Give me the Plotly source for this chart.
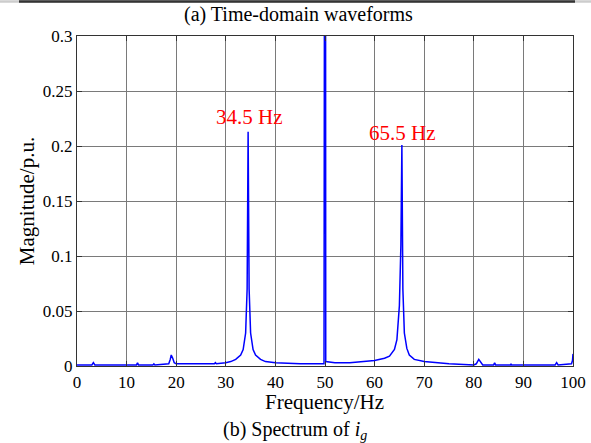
import plotly.graph_objects as go

freq = [0, 3.0, 3.3, 3.6, 10, 12.0, 12.2, 12.4, 15.3, 15.5, 15.7, 18.5, 18.8, 19.0, 19.3, 19.6, 20.0,
        25, 27.7, 27.9, 28.1, 30, 31, 32, 33, 33.5, 34.0, 34.3, 34.5, 34.7, 35.0, 35.5, 36, 37, 38, 40,
        45, 49.8, 49.9, 50.05, 50.15, 52, 55, 60, 62, 63, 64, 64.5, 65.0, 65.3, 65.5, 65.7, 66.0, 66.5,
        67, 68, 70, 75, 80, 80.5, 81.0, 81.4, 81.8, 84.0, 84.2, 84.4, 87.4, 87.5, 87.6, 96.4, 96.7, 97.0,
        99.7, 99.9, 100]
mag = [0.001, 0.001, 0.003, 0.001, 0.001, 0.001, 0.003, 0.001, 0.001, 0.002, 0.001, 0.002, 0.006, 0.010, 0.007, 0.003, 0.002,
       0.002, 0.002, 0.003, 0.002, 0.003, 0.004, 0.006, 0.010, 0.015, 0.030, 0.07, 0.213, 0.07, 0.030, 0.015, 0.010, 0.006, 0.004, 0.003,
       0.002, 0.002, 1.0, 1.0, 0.004, 0.003, 0.003, 0.005, 0.007, 0.009, 0.015, 0.024, 0.055, 0.11, 0.201, 0.07, 0.030, 0.016,
       0.010, 0.006, 0.004, 0.002, 0.001, 0.002, 0.006, 0.003, 0.001, 0.001, 0.003, 0.001, 0.001, 0.002, 0.001, 0.001, 0.003, 0.001,
       0.002, 0.005, 0.011]

x_ticks = [0, 10, 20, 30, 40, 50, 60, 70, 80, 90, 100]
y_ticks = [0, 0.05, 0.1, 0.15, 0.2, 0.25, 0.3]
y_tick_labels = ["0", "0.05", "0.1", "0.15", "0.2", "0.25", "0.3"]
peak_labels = [(34.8, 0.226, "34.5 Hz"), (65.7, 0.212, "65.5 Hz")]

FONT = "Liberation Serif, DejaVu Serif, serif"

fig = go.Figure()
fig.add_trace(go.Scatter(x=freq, y=mag, mode="lines",
                         line=dict(color="#0000FF", width=1.5), showlegend=False))

axis_common = dict(showline=True, linecolor="#333333", linewidth=1.2, mirror="allticks",
                   ticks="inside", ticklen=5, tickcolor="#333333", showgrid=True,
                   gridcolor="#7a7a7a", gridwidth=1, zeroline=False, automargin=False,
                   tickfont=dict(family=FONT, size=17, color="black"))

fig.update_xaxes(range=[0, 100], tickvals=x_ticks, **axis_common)
fig.update_yaxes(range=[0, 0.3], tickvals=y_ticks, ticktext=y_tick_labels, **axis_common,
                 title=dict(text="Magnitude/p.u.", font=dict(family=FONT, size=21, color="black"), standoff=2))

for x, y, t in peak_labels:
    fig.add_annotation(x=x, y=y, text=t, showarrow=False, xanchor="center", yanchor="middle",
                       font=dict(family=FONT, size=21, color="#FF0000"))

# x-axis title
fig.add_annotation(xref="paper", yref="paper", x=(324 - 77) / 496, y=(366 - 402) / 330, text="Frequency/Hz",
                   showarrow=False, xanchor="center", yanchor="middle",
                   font=dict(family=FONT, size=21, color="black"))

fig.add_annotation(xref="paper", yref="paper", x=(298 - 77) / 496, y=(366 - 14) / 330, text="(a) Time-domain waveforms",
                   showarrow=False, xanchor="center", yanchor="middle",
                   font=dict(family=FONT, size=20, color="black"))
fig.add_annotation(xref="paper", yref="paper", x=(295 - 77) / 496, y=(366 - 430) / 330,
                   text="(b) Spectrum of <i>i</i><sub><i>g</i></sub>",
                   showarrow=False, xanchor="center", yanchor="middle",
                   font=dict(family=FONT, size=20, color="black"))

# thin border line at the very top of the image
fig.add_shape(type="line", xref="paper", yref="paper", x0=-77 / 496, x1=(591 - 77) / 496,
              y0=(366 - 1.5) / 330, y1=(366 - 1.5) / 330, line=dict(color="#cccccc", width=2.5))
fig.add_shape(type="line", xref="paper", yref="paper", x0=(19 - 77) / 496, x1=(575 - 77) / 496,
              y0=(366 - 1.5) / 330, y1=(366 - 1.5) / 330, line=dict(color="#333333", width=2.5))

fig.update_layout(width=591, height=443, margin=dict(l=77, r=18, t=36, b=77, autoexpand=False),
                  paper_bgcolor="white", plot_bgcolor="white",
                  font=dict(family=FONT, color="black"))

fig.write_html("out.html", config={"displayModeBar": False},
               post_script="document.body.style.margin='0';document.body.style.padding='0';")
